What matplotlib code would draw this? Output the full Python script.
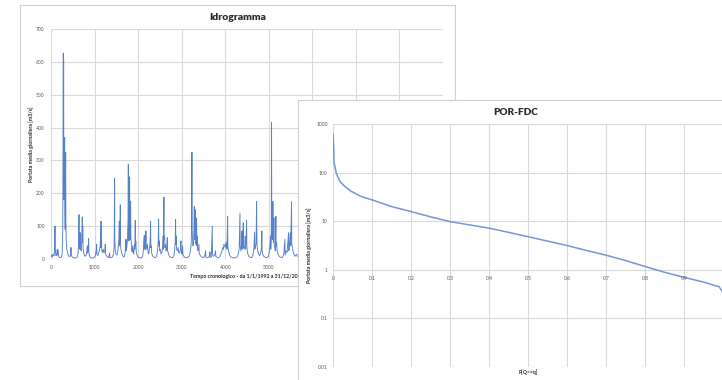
import matplotlib
matplotlib.use("Agg")          # headless
import matplotlib.pyplot as plt
from matplotlib.ticker import NullLocator

plt.rcParams['font.family'] = ['Lato', 'DejaVu Sans']

# --- Idrogramma: giorno dal 1/1/1992, portata media giornaliera [m3/s]
giorni = [
    0, 15, 30, 50, 70, 85, 92, 96, 104, 115,
    130, 145, 150, 165, 172, 190, 210, 235, 255, 270,
    283, 286, 290, 296, 304, 314, 318, 326, 337, 342,
    350, 362, 380, 400, 430, 450, 459, 465, 485, 510,
    540, 570, 600, 620, 633, 643, 648, 660, 673, 678,
    695, 705, 719, 723, 730, 736, 750, 765, 785, 805,
    820, 834, 840, 852, 864, 870, 885, 910, 940, 970,
    1000, 1025, 1040, 1048, 1053, 1075, 1095, 1115, 1130, 1140,
    1144, 1148, 1152, 1160, 1166, 1180, 1200, 1215, 1235, 1247,
    1252, 1270, 1295, 1325, 1345, 1350, 1380, 1410, 1435, 1450,
    1461, 1465, 1472, 1480, 1495, 1515, 1535, 1550, 1558, 1568,
    1572, 1582, 1591, 1596, 1610, 1630, 1655, 1680, 1700, 1715,
    1721, 1727, 1740, 1755, 1768, 1775, 1780, 1790, 1798, 1805,
    1810, 1818, 1828, 1834, 1842, 1850, 1862, 1875, 1885, 1900,
    1915, 1925, 1935, 1940, 1948, 1958, 1975, 2000, 2035, 2070,
    2100, 2120, 2132, 2142, 2148, 2160, 2168, 2180, 2186, 2200,
    2215, 2228, 2245, 2265, 2278, 2287, 2292, 2300, 2312, 2330,
    2360, 2395, 2425, 2445, 2460, 2471, 2476, 2485, 2492, 2510,
    2525, 2545, 2565, 2575, 2580, 2593, 2598, 2608, 2615, 2630,
    2640, 2655, 2670, 2676, 2690, 2710, 2740, 2770, 2800, 2825,
    2840, 2852, 2861, 2866, 2875, 2882, 2900, 2918, 2930, 2950,
    2970, 2984, 2990, 3005, 3022, 3028, 3050, 3080, 3110, 3140,
    3170, 3195, 3215, 3228, 3236, 3240, 3250, 3260, 3275, 3283,
    3290, 3295, 3305, 3312, 3317, 3328, 3343, 3348, 3358, 3365,
    3380, 3397, 3402, 3420, 3445, 3475, 3505, 3530, 3550, 3556,
    3590, 3620, 3640, 3649, 3655, 3680, 3703, 3708, 3725, 3760,
    3779, 3784, 3810, 3840, 3870, 3900, 3925, 3945, 3960, 3970,
    3985, 4000, 4015, 4032, 4040, 4055, 4060, 4072, 4085, 4100,
    4130, 4165, 4200, 4235, 4270, 4300, 4320, 4338, 4343, 4360,
    4375, 4383, 4388, 4400, 4414, 4419, 4435, 4450, 4460, 4468,
    4480, 4491, 4496, 4505, 4520, 4545, 4575, 4610, 4640, 4660,
    4674, 4680, 4695, 4708, 4720, 4725, 4732, 4745, 4765, 4790,
    4815, 4830, 4842, 4847, 4860, 4885, 4920, 4955, 4990, 5015,
    5030, 5041, 5046, 5058, 5064, 5068, 5075, 5085, 5095, 5100,
    5110, 5118, 5123, 5135, 5150, 5164, 5168, 5180, 5192, 5210,
    5240, 5275, 5310, 5345, 5370, 5375, 5400, 5420, 5440, 5454,
    5458, 5470, 5485, 5493, 5503, 5523, 5528, 5540, 5555, 5575,
    5600, 5625, 5638, 5660, 5700,
]
portata = [
    6, 12, 7, 15, 9, 30, 100, 35, 20, 10,
    14, 30, 12, 28, 10, 6, 4, 5, 14, 90,
    627, 280, 610, 180, 250, 370, 150, 90, 325, 110,
    55, 30, 18, 10, 7, 12, 35, 12, 6, 4,
    3, 3, 6, 15, 45, 135, 40, 30, 80, 30,
    25, 60, 128, 50, 100, 35, 20, 12, 8, 12,
    22, 40, 18, 25, 62, 20, 8, 4, 3, 3,
    6, 15, 25, 45, 15, 10, 20, 28, 40, 78,
    35, 115, 45, 60, 28, 20, 30, 18, 25, 45,
    15, 10, 6, 4, 18, 5, 4, 6, 15, 40,
    245, 60, 35, 20, 15, 12, 25, 45, 60, 115,
    40, 80, 165, 45, 25, 15, 8, 6, 18, 40,
    60, 25, 35, 60, 120, 288, 100, 55, 120, 250,
    90, 60, 175, 60, 58, 30, 22, 40, 20, 15,
    45, 30, 118, 40, 55, 22, 12, 6, 4, 3,
    6, 25, 60, 72, 30, 62, 28, 85, 40, 30,
    45, 20, 15, 35, 60, 115, 35, 40, 18, 10,
    6, 4, 8, 25, 50, 122, 40, 55, 25, 30,
    15, 20, 35, 70, 30, 188, 60, 70, 35, 45,
    25, 30, 65, 25, 20, 10, 6, 4, 5, 12,
    30, 50, 120, 45, 70, 30, 25, 35, 20, 18,
    30, 55, 20, 15, 40, 15, 8, 5, 4, 5,
    8, 20, 40, 80, 325, 90, 60, 40, 50, 100,
    160, 60, 70, 150, 50, 45, 125, 40, 70, 30,
    25, 45, 18, 12, 8, 5, 4, 10, 25, 6,
    4, 5, 10, 22, 6, 5, 100, 15, 8, 12,
    25, 8, 5, 4, 6, 15, 25, 35, 30, 45,
    40, 35, 48, 50, 30, 130, 40, 25, 20, 12,
    6, 4, 3, 4, 6, 15, 30, 140, 40, 25,
    45, 85, 30, 40, 110, 35, 30, 40, 70, 30,
    60, 118, 40, 25, 15, 8, 5, 4, 15, 35,
    82, 30, 40, 45, 175, 85, 40, 25, 15, 10,
    20, 30, 85, 25, 15, 8, 5, 4, 8, 25,
    45, 70, 30, 60, 415, 175, 80, 60, 175, 60,
    50, 125, 45, 40, 25, 130, 40, 50, 25, 15,
    8, 5, 4, 15, 60, 12, 25, 20, 55, 80,
    25, 30, 60, 80, 40, 175, 45, 40, 25, 15,
    8, 12, 15, 8, 6,
]
assert len(giorni) == len(portata)

# --- Curva di durata (POR-FDC)
prob_super = [0.0, 0.002, 0.0026, 0.005, 0.0085, 0.017, 0.03, 0.047, 0.073, 0.1,
              0.15, 0.2, 0.25, 0.3, 0.35, 0.4, 0.45, 0.5, 0.55, 0.6,
              0.65, 0.7, 0.75, 0.8, 0.85, 0.9, 0.95, 0.977, 0.99, 0.996, 1.0]
portata_fdc = [627, 316, 168, 133, 97, 67, 52, 41, 32, 27.5,
               20, 15.8, 12.3, 9.8, 8.4, 7.2, 5.9, 4.8, 3.9, 3.16,
               2.5, 2.0, 1.55, 1.17, 0.89, 0.70, 0.56, 0.48, 0.45, 0.38, 0.33]

x_ticks_idro = [0, 1000, 2000, 3000, 4000, 5000, 6000, 7000, 8000, 9000]
y_ticks_idro = [0, 100, 200, 300, 400, 500, 600, 700]
x_ticks_fdc = [0, 0.1, 0.2, 0.3, 0.4, 0.5, 0.6, 0.7, 0.8, 0.9, 1.0]
x_labels_fdc = ["0", "0.1", "0.2", "0.3", "0.4", "0.5", "0.6", "0.7", "0.8", "0.9", ""]
y_ticks_fdc = [0.01, 0.1, 1, 10, 100, 1000]
y_labels_fdc = ["0.01", "0.1", "1", "10", "100", "1000"]

W, H = 722, 380
BLU = "#4472C4"
GRIGLIA = "#d9d9d9"
BORDO = "#d0d0d0"
TXT = "#595959"
TIT = "#2b2b2b"

fig = plt.figure(figsize=(W / 100, H / 100), dpi=100)


def box(x0, y0, x1, y1):
    # pixel box (top-left origin) -> figure fraction
    return [x0 / W, 1 - y1 / H, (x1 - x0) / W, (y1 - y0) / H]


def pannello(rect):
    p = fig.add_axes(rect)
    p.set_xticks([]); p.set_yticks([])
    p.set_facecolor("white")
    for s in p.spines.values():
        s.set_color(BORDO); s.set_linewidth(0.8)
    return p


def stile(ax):
    for s in ax.spines.values():
        s.set_visible(False)
    ax.grid(True, color=GRIGLIA, lw=0.8)
    ax.set_axisbelow(True)
    ax.tick_params(length=0, labelsize=3.6, labelcolor=TXT)
    ax.set_facecolor("none")


# ---- chart 1: idrogramma
p1 = pannello(box(20, 5, 455, 286))
p1.text(0.5, 0.957, "Idrogramma", transform=p1.transAxes, ha="center", va="center",
        fontsize=7.5, fontweight="heavy", color=TIT)
ax1 = fig.add_axes(box(51, 29, 443, 259))
stile(ax1)
ax1.plot(giorni, portata, color=BLU, lw=0.65, alpha=0.9)
ax1.set_xlim(0, 9000); ax1.set_ylim(0, 700)
ax1.set_xticks(x_ticks_idro); ax1.set_yticks(y_ticks_idro)
ax1.tick_params(axis="y", pad=4.5)
ax1.tick_params(axis="x", pad=4.5)
ax1.text(0.5, -0.074, "Tempo cronologico - da 1/1/1992 a 31/12/2015", transform=ax1.transAxes,
         ha="center", va="center", fontsize=3.8, fontweight="bold", color=TIT)
ax1.text(-0.051, 0.5, "Portata media giornaliera [m3/s]", transform=ax1.transAxes, rotation=90,
         ha="center", va="center", fontsize=3.8, fontweight="bold", color=TIT)

# ---- chart 2: POR-FDC
p2 = pannello(box(298, 100, 733, 381))
p2.text(0.5, 0.957, "POR-FDC", transform=p2.transAxes, ha="center", va="center",
        fontsize=7.2, fontweight="heavy", color=TIT)
ax2 = fig.add_axes(box(333, 124, 723, 367))
stile(ax2)
ax2.set_yscale("log")
ax2.plot(prob_super, portata_fdc, color="#5b84d0", lw=1.1, alpha=0.85)
ax2.set_xlim(0, 1); ax2.set_ylim(0.01, 1000)
ax2.set_yticks(y_ticks_fdc, y_labels_fdc)
ax2.yaxis.set_minor_locator(NullLocator())
ax2.set_xticks(x_ticks_fdc, [""] * len(x_ticks_fdc))
ax2.tick_params(axis="y", pad=3.8)
# category labels sit below the horizontal axis crossing at 1
for xv, lab in zip(x_ticks_fdc, x_labels_fdc):
    ax2.annotate(lab, (xv, 1), xytext=(0, -6.5), textcoords="offset points",
                 ha="center", va="center", fontsize=3.6, color=TXT)
ax2.text(0.5, -0.021, "P[Q>=q]", transform=ax2.transAxes,
         ha="center", va="center", fontsize=3.8, fontweight="bold", color=TIT)
ax2.text(-0.062, 0.5, "Portata media giornaliera [m3/s]", transform=ax2.transAxes, rotation=90,
         ha="center", va="center", fontsize=3.8, fontweight="bold", color=TIT)

fig.savefig("out.png", dpi=100)
